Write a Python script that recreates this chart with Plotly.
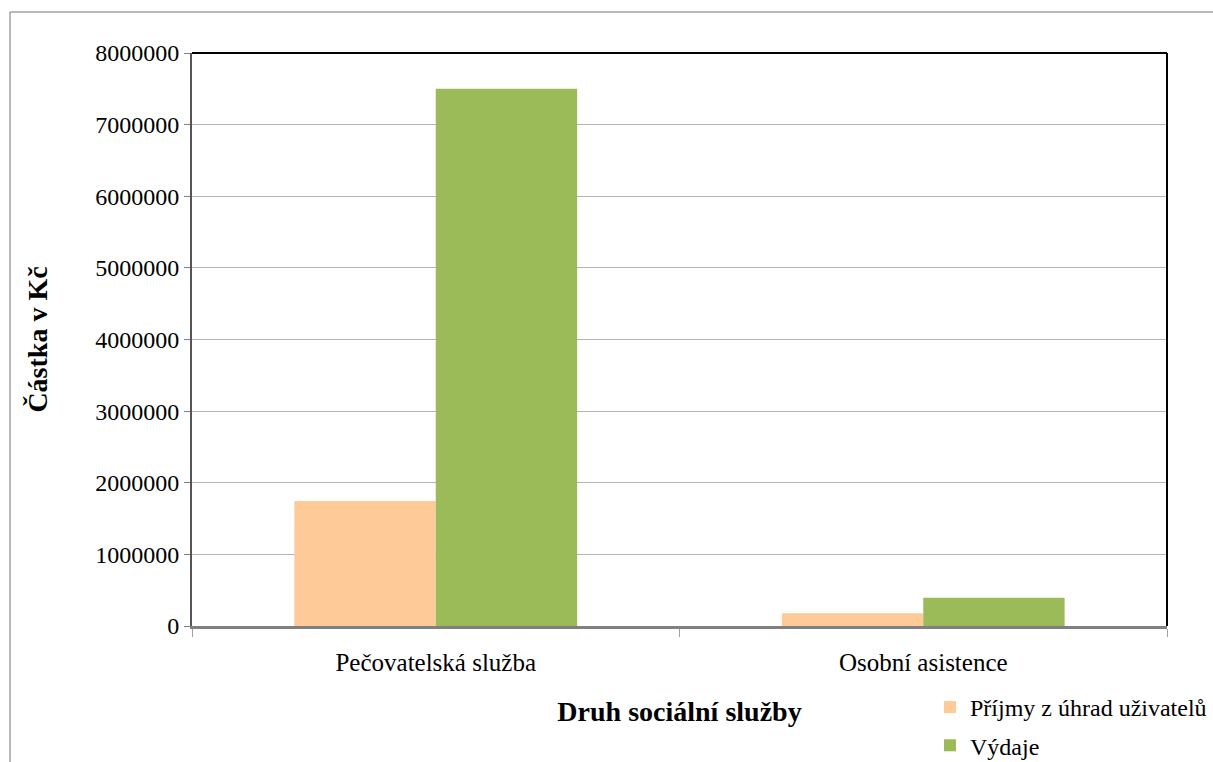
import plotly.graph_objects as go

categories = ["Pečovatelská služba", "Osobní asistence"]
series_names = ["Příjmy z úhrad uživatelů", "Výdaje"]
prijmy = [1745000, 177000]
vydaje = [7500000, 395000]
y_ticks = [0, 1000000, 2000000, 3000000, 4000000, 5000000, 6000000, 7000000, 8000000]

FONT = "Liberation Serif, Times New Roman, serif"

fig = go.Figure()
fig.add_trace(go.Bar(x=categories, y=prijmy, name=series_names[0],
                     marker=dict(color="#FDCA98", line=dict(width=0)), legendgroup="a"))
fig.add_trace(go.Bar(x=categories, y=vydaje, name=series_names[1],
                     marker=dict(color="#9BBB59", line=dict(width=0)), legendgroup="b"))

L, R, T, B = 192, 46, 53, 136
W, H = 1213, 762
pw, ph = W - L - R, H - T - B

def px(x):
    return (x - L) / pw

def py(y):
    return (H - B - y) / ph

fig.update_layout(
    width=W, height=H,
    margin=dict(l=L, r=R, t=T, b=B, autoexpand=False),
    paper_bgcolor="white", plot_bgcolor="white",
    barmode="group", bargap=0.42, bargroupgap=0,
    font=dict(family=FONT, size=24, color="black"),
    showlegend=True,
    legend=dict(x=px(930), y=py(685), xanchor="left", yanchor="top",
                font=dict(family=FONT, size=24, color="black"),
                tracegroupgap=4, bgcolor="rgba(0,0,0,0)", itemwidth=30),
    xaxis=dict(
        showline=True, linecolor="#808080", linewidth=3,
        ticks="outside", tickson="boundaries", ticklen=8, tickcolor="#a0a0a0",
        tickfont=dict(family=FONT, size=25), ticklabelstandoff=12,
        title=dict(text="<b>Druh sociální služby</b>", font=dict(family=FONT, size=28), standoff=27),
        showgrid=False, automargin=False,
    ),
    yaxis=dict(
        range=[0, 8000000], tickvals=y_ticks, ticktext=[str(v) for v in y_ticks],
        showline=True, linecolor="#555555", linewidth=2,
        ticks="outside", ticklen=6, tickcolor="#808080",
        showgrid=True, gridcolor="#b4b4b4", gridwidth=1,
        tickfont=dict(family=FONT, size=24),
        title=dict(text="<b>Částka v Kč</b>", font=dict(family=FONT, size=28), standoff=39),
        zeroline=False, automargin=False,
    ),
    shapes=[
        dict(type="line", xref="paper", yref="paper", x0=0, x1=1, y0=1, y1=1,
             line=dict(color="black", width=2)),
        dict(type="line", xref="paper", yref="paper", x0=1, x1=1, y0=0, y1=1,
             line=dict(color="black", width=2)),
        dict(type="line", xref="paper", yref="paper", x0=px(10), x1=px(1213), y0=py(12), y1=py(12),
             line=dict(color="#a0a0a0", width=1.5)),
        dict(type="line", xref="paper", yref="paper", x0=px(10), x1=px(10), y0=py(12), y1=py(770),
             line=dict(color="#a0a0a0", width=1.5)),
    ],
)

fig.write_html("out.html", config={"displayModeBar": False},
               post_script="document.body.style.margin='0';")
